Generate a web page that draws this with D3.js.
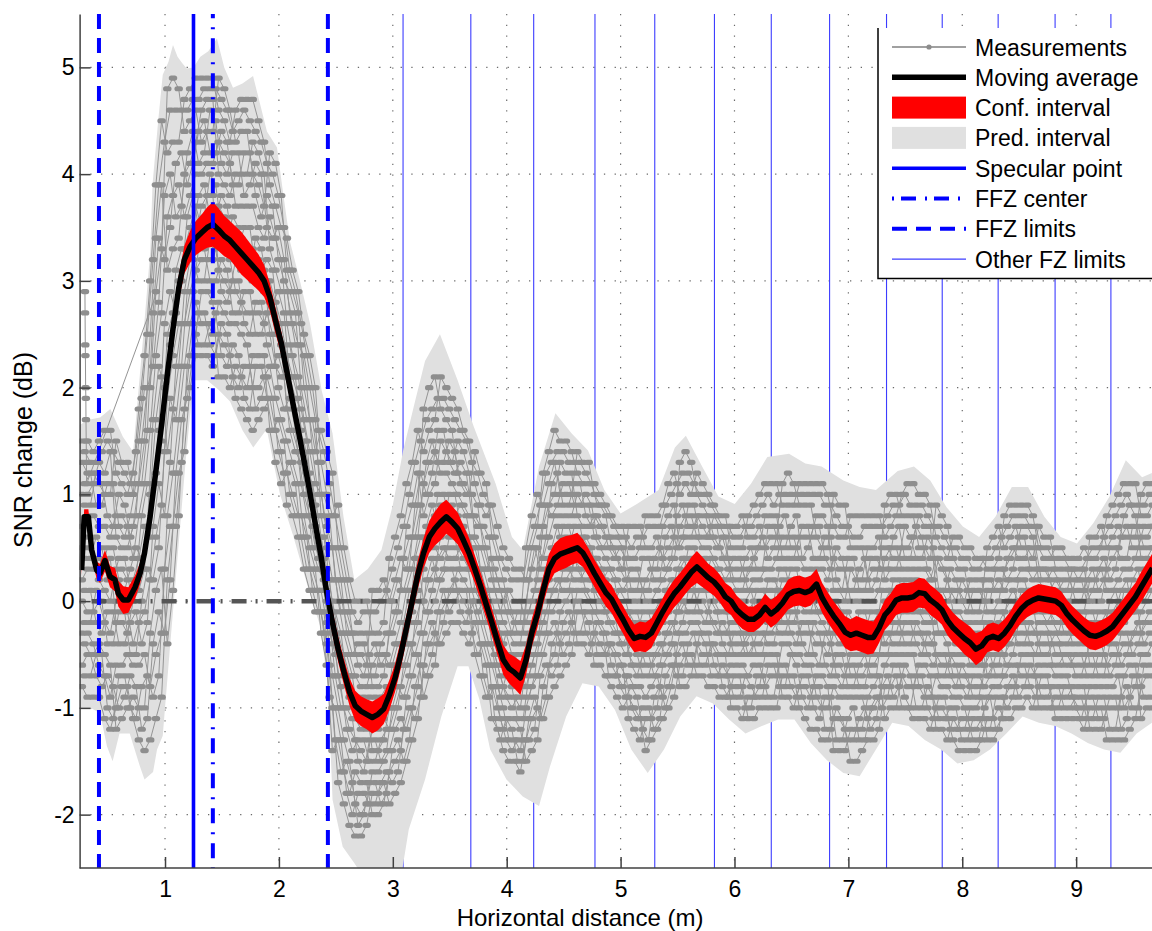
<!DOCTYPE html>
<html>
<head>
<meta charset="utf-8">
<script src="https://cdn.jsdelivr.net/npm/d3@7"></script>
<style>
  body { margin: 0; background: #fff; }
  svg { display: block; }
  text { font-family: "Liberation Sans", Arial, Helvetica, sans-serif; }
</style>
</head>
<body>
<svg id="chart" width="1152" height="931"></svg>
<script>
// ---------------- DATA ----------------
const xTicks = [1, 2, 3, 4, 5, 6, 7, 8, 9];
const yTicks = [-2, -1, 0, 1, 2, 3, 4, 5];

// moving average (dB) versus horizontal distance (m)
const avgX = [0.268,0.29,0.327,0.356,0.40,0.429,0.473,0.517,0.561,0.59,0.634,0.678,0.737,0.781,0.82,
  0.87,0.92,0.97,1.02,1.07,1.12,1.17,1.22,1.27,1.32,
  1.37,1.42,1.47,1.52,1.57,1.62,1.67,1.72,1.77,1.82,
  1.87,1.92,1.97,2.02,2.07,2.12,2.17,2.22,2.27,2.32,
  2.37,2.42,2.47,2.52,2.57,2.62,2.67,2.72,2.77,2.82,
  2.87,2.92,2.97,3.02,3.07,3.12,3.17,3.22,3.27,3.32,
  3.37,3.42,3.47,3.52,3.57,3.62,3.67,3.72,3.77,3.82,
  3.87,3.92,3.97,4.02,4.07,4.12,4.17,4.22,4.27,4.32,
  4.37,4.42,4.47,4.52,4.57,4.62,4.67,4.72,4.77,4.82,
  4.87,4.92,4.97,5.02,5.07,5.12,5.17,5.22,5.27,5.32,
  5.37,5.42,5.47,5.52,5.57,5.62,5.67,5.72,5.77,5.82,
  5.87,5.92,5.97,6.02,6.07,6.12,6.17,6.22,6.27,6.32,
  6.37,6.42,6.47,6.52,6.57,6.62,6.67,6.72,6.77,6.82,
  6.87,6.92,6.97,7.02,7.07,7.12,7.17,7.22,7.27,7.32,
  7.37,7.42,7.47,7.52,7.57,7.62,7.67,7.72,7.77,7.82,
  7.87,7.92,7.97,8.02,8.07,8.12,8.17,8.22,8.27,8.32,
  8.37,8.42,8.47,8.52,8.57,8.62,8.67,8.72,8.77,8.82,
  8.87,8.92,8.97,9.02,9.07,9.12,9.17,9.22,9.27,9.32,
  9.37,9.42,9.47,9.52,9.57,9.62,9.67];
const avgY = [0.29,0.79,0.79,0.48,0.29,0.26,0.38,0.23,0.2,0.07,0.01,0.01,0.13,0.26,0.45,
  0.8,1.22,1.65,2.12,2.55,2.93,3.2,3.32,3.4,3.45,
  3.5,3.53,3.48,3.42,3.38,3.32,3.26,3.2,3.14,3.08,
  3.0,2.85,2.63,2.42,2.15,1.87,1.6,1.32,1.03,0.72,
  0.42,0.08,-0.2,-0.45,-0.66,-0.85,-0.98,-1.03,-1.06,-1.09,
  -1.06,-1.01,-0.88,-0.72,-0.5,-0.25,0.0,0.25,0.45,0.6,
  0.68,0.74,0.79,0.74,0.68,0.57,0.45,0.3,0.14,-0.03,
  -0.2,-0.38,-0.55,-0.63,-0.67,-0.72,-0.55,-0.3,-0.12,0.1,
  0.3,0.4,0.44,0.46,0.48,0.5,0.45,0.36,0.26,0.17,
  0.08,0.02,-0.08,-0.17,-0.27,-0.35,-0.33,-0.34,-0.3,-0.2,
  -0.1,-0.01,0.07,0.13,0.2,0.27,0.32,0.27,0.22,0.18,
  0.12,0.04,0.0,-0.08,-0.13,-0.17,-0.17,-0.13,-0.06,-0.12,
  -0.08,-0.02,0.06,0.09,0.1,0.08,0.1,0.16,0.03,-0.06,
  -0.14,-0.21,-0.29,-0.32,-0.3,-0.32,-0.34,-0.34,-0.25,-0.13,
  -0.07,0.01,0.03,0.03,0.04,0.08,0.07,0.01,-0.03,-0.08,
  -0.18,-0.25,-0.3,-0.35,-0.39,-0.45,-0.42,-0.35,-0.33,-0.35,
  -0.3,-0.23,-0.14,-0.07,-0.02,0.01,0.03,0.02,0.01,0.0,
  -0.04,-0.12,-0.18,-0.23,-0.28,-0.32,-0.33,-0.31,-0.28,-0.24,
  -0.17,-0.1,-0.03,0.04,0.13,0.22,0.31];
// half-width of the confidence interval at each avgX
const ciHalf = [0.05,0.07,0.07,0.08,0.08,0.09,0.1,0.1,0.11,0.12,0.13,0.12,0.11,0.1,0.1,
  0.1,0.1,0.1,0.1,0.11,0.12,0.13,0.15,0.16,0.17,
  0.19,0.21,0.2,0.19,0.18,0.19,0.2,0.19,0.18,0.17,
  0.15,0.13,0.12,0.11,0.11,0.1,0.1,0.1,0.1,0.1,
  0.1,0.1,0.11,0.12,0.12,0.13,0.14,0.14,0.14,0.15,
  0.15,0.14,0.14,0.13,0.13,0.12,0.12,0.13,0.14,0.15,
  0.16,0.17,0.16,0.15,0.15,0.14,0.14,0.13,0.13,0.13,
  0.13,0.13,0.14,0.14,0.15,0.16,0.14,0.13,0.13,0.13,
  0.14,0.14,0.15,0.15,0.14,0.14,0.13,0.13,0.13,0.13,
  0.13,0.13,0.13,0.13,0.13,0.13,0.14,0.14,0.14,0.13,
  0.13,0.13,0.13,0.13,0.13,0.14,0.15,0.14,0.13,0.13,
  0.13,0.13,0.13,0.13,0.13,0.12,0.12,0.12,0.13,0.13,
  0.13,0.13,0.14,0.14,0.14,0.14,0.14,0.14,0.14,0.14,
  0.14,0.14,0.15,0.15,0.16,0.16,0.16,0.15,0.14,0.14,
  0.14,0.14,0.14,0.14,0.14,0.14,0.14,0.14,0.14,0.14,
  0.14,0.14,0.14,0.15,0.15,0.15,0.14,0.13,0.13,0.13,
  0.13,0.13,0.13,0.13,0.13,0.13,0.13,0.13,0.13,0.13,
  0.13,0.13,0.13,0.13,0.13,0.13,0.13,0.13,0.13,0.13,
  0.13,0.13,0.13,0.13,0.14,0.14,0.14];

// prediction interval bounds
const predUpX = [0.25,0.33,0.43,0.52,0.63,0.72,0.81,0.87,0.89,0.94,0.98,1.03,1.07,1.11,1.15,1.19,1.25,1.31,1.38,1.456,
  1.52,1.597,1.68,1.773,1.895,1.983,2.04,2.097,2.185,2.273,2.376,2.471,2.567,2.662,2.78,2.9,3.0,3.091,3.19,3.283,
  3.414,3.569,3.712,3.903,4.046,4.141,4.284,4.428,4.571,4.714,4.857,5.0,5.143,5.334,5.477,5.573,5.716,5.859,6.002,6.145,
  6.288,6.479,6.622,6.765,6.956,7.099,7.242,7.433,7.576,7.719,7.862,8.005,8.148,8.291,8.435,8.578,8.721,8.864,9.007,9.15,
  9.293,9.436,9.579,9.665];
const predUpY = [1.65,1.7,1.72,1.8,1.54,1.4,2.5,3.27,3.9,4.5,4.93,5.05,5.21,5.1,5.04,4.99,5.0,5.1,5.15,5.27,
  5.0,4.81,4.85,4.92,4.4,4.25,3.8,3.37,3.0,2.6,1.97,1.57,0.79,0.2,0.3,0.48,0.9,1.41,1.85,2.25,
  2.5,2.07,1.63,1.1,0.6,0.48,1.26,1.76,1.57,1.41,1.04,0.82,0.91,1.04,1.44,1.55,1.26,0.98,0.91,1.1,
  1.35,1.38,1.29,1.26,1.13,1.07,1.04,1.22,1.26,1.13,0.88,0.7,0.6,0.79,1.07,1.07,0.79,0.6,0.54,0.73,
  0.98,1.32,1.16,1.2];
const predLoX = [0.25,0.35,0.43,0.49,0.54,0.6,0.69,0.78,0.82,0.895,0.93,0.98,1.04,1.11,1.18,1.25,1.37,1.47,1.571,1.68,
  1.775,1.893,2.01,2.126,2.244,2.361,2.42,2.45,2.471,2.56,2.66,2.75,2.88,3.0,3.07,3.14,3.283,3.426,3.569,3.664,
  3.76,3.855,3.998,4.141,4.284,4.38,4.522,4.665,4.808,4.951,5.094,5.238,5.381,5.524,5.667,5.811,5.953,6.097,6.24,6.383,
  6.526,6.67,6.812,6.956,7.099,7.242,7.385,7.528,7.671,7.814,7.958,8.1,8.244,8.387,8.53,8.673,8.816,8.959,9.102,9.245,
  9.388,9.531,9.665];
const predLoY = [-1.0,-1.0,-1.05,-1.36,-1.5,-1.24,-1.24,-1.55,-1.67,-1.6,-1.39,-1.26,-0.48,0.41,1.3,2.07,2.07,1.98,1.87,1.6,
  1.44,1.61,1.0,0.61,0.17,-0.23,-0.7,-1.3,-1.86,-2.3,-2.45,-2.6,-2.7,-2.7,-2.6,-2.14,-1.67,-1.08,-0.61,-0.61,
  -0.92,-1.39,-1.67,-1.83,-1.92,-1.55,-1.08,-0.77,-0.8,-1.02,-1.39,-1.61,-1.39,-1.08,-0.89,-0.96,-1.11,-1.24,-1.17,-1.11,
  -1.11,-1.33,-1.49,-1.61,-1.64,-1.39,-1.14,-1.17,-1.3,-1.39,-1.52,-1.49,-1.39,-1.24,-1.08,-1.14,-1.17,-1.24,-1.33,-1.39,
  -1.42,-1.24,-1.14];

// measurement sample positions (m) and the quantised SNR changes (dB) of the passes at each position
const measX = [0.27,0.32,0.37,0.42,0.47,0.52,0.57,0.62,0.67,0.72,
  0.77,0.82,0.87,0.92,0.97,1.02,1.07,1.12,1.17,1.22,
  1.27,1.32,1.37,1.42,1.47,1.52,1.57,1.62,1.67,1.72,
  1.77,1.82,1.87,1.92,1.97,2.02,2.07,2.12,2.17,2.22,
  2.27,2.32,2.37,2.42,2.47,2.52,2.57,2.62,2.67,2.72,
  2.77,2.82,2.87,2.92,2.97,3.02,3.07,3.12,3.17,3.22,
  3.27,3.32,3.37,3.42,3.47,3.52,3.57,3.62,3.67,3.72,
  3.77,3.82,3.87,3.92,3.97,4.02,4.07,4.12,4.17,4.22,
  4.27,4.32,4.37,4.42,4.47,4.52,4.57,4.62,4.67,4.72,
  4.77,4.82,4.87,4.92,4.97,5.02,5.07,5.12,5.17,5.22,
  5.27,5.32,5.37,5.42,5.47,5.52,5.57,5.62,5.67,5.72,
  5.77,5.82,5.87,5.92,5.97,6.02,6.07,6.12,6.17,6.22,
  6.27,6.32,6.37,6.42,6.47,6.52,6.57,6.62,6.67,6.72,
  6.77,6.82,6.87,6.92,6.97,7.02,7.07,7.12,7.17,7.22,
  7.27,7.32,7.37,7.42,7.47,7.52,7.57,7.62,7.67,7.72,
  7.77,7.82,7.87,7.92,7.97,8.02,8.07,8.12,8.17,8.22,
  8.27,8.32,8.37,8.42,8.47,8.52,8.57,8.62,8.67,8.72,
  8.77,8.82,8.87,8.92,8.97,9.02,9.07,9.12,9.17,9.22,
  9.27,9.32,9.37,9.42,9.47,9.52,9.57,9.62,9.67];
const measCols = [
[-0.8,-0.6,-0.3,0.0,0.2,0.5,0.7,1.0,1.3,1.5],
[-0.9,-0.5,-0.3,-0.1,0.3,0.5,0.8,1.0,1.2,1.5],
[-0.9,-0.5,-0.4,-0.1,0.3,0.4,0.8,1.1,1.2,1.4],
[-0.9,-0.4,-0.6,0.0,0.4,0.2,0.7,1.3,1.1,1.5],
[-1.1,-0.5,-0.7,-0.2,0.3,0.1,0.7,1.2,1.0,1.6],
[-1.2,-0.6,-0.9,-0.3,0.4,0.0,0.6,1.4,1.0,1.6],
[-1.0,-1.2,-0.6,0.0,-0.2,0.3,0.8,0.6,1.5,1.2],
[-0.8,-1.1,-0.6,0.1,-0.2,0.3,0.8,0.5,1.3,1.1],
[-0.8,-1.0,-0.5,-0.1,-0.3,0.2,0.7,0.5,1.3,1.0],
[-1.1,-0.9,-0.6,-0.4,0.0,0.2,0.4,0.7,1.0,1.2],
[-1.3,-1.0,-0.6,-0.2,0.1,0.4,0.8,1.1,1.5,1.8],
[-1.4,-1.0,-0.5,-0.1,0.3,0.7,1.1,1.5,2.0,2.3],
[-1.3,-0.3,-0.8,0.2,1.0,0.6,1.6,2.5,2.0,3.0],
[-1.1,0.1,-0.5,0.6,1.7,1.2,2.3,3.4,2.9,3.9],
[-0.9,0.3,-0.3,0.9,2.1,1.5,2.7,3.9,3.3,4.5],
[0.2,-0.4,0.8,1.9,1.4,2.5,3.6,3.1,4.8,4.2],
[0.7,0.1,1.2,2.3,1.8,2.7,3.8,3.3,4.9,4.3],
[1.2,0.8,1.7,2.6,2.2,3.0,3.9,3.4,4.8,4.3],
[1.4,1.8,2.2,2.6,2.9,3.3,3.6,4.0,4.4,4.7],
[2.0,2.3,2.6,2.9,3.2,3.5,3.8,4.1,4.5,4.8],
[2.3,2.5,2.8,3.1,3.4,3.7,4.0,4.3,4.6,4.9],
[2.3,2.9,2.6,3.2,3.7,3.5,4.0,4.6,4.3,4.9],
[2.3,2.9,2.6,3.2,3.8,3.5,4.1,4.7,4.4,4.9],
[2.2,2.8,2.5,3.2,3.8,3.5,4.1,4.7,4.4,4.9],
[2.5,2.1,2.8,3.4,3.1,3.7,4.3,4.0,4.9,4.6],
[2.4,2.1,2.7,3.3,3.0,3.6,4.2,3.9,4.8,4.5],
[2.3,2.0,2.6,3.2,2.9,3.5,4.1,3.8,4.6,4.3],
[1.9,2.2,2.6,2.9,3.2,3.4,3.7,4.0,4.3,4.6],
[1.8,2.1,2.5,2.8,3.1,3.4,3.7,4.0,4.4,4.7],
[1.7,2.0,2.4,2.7,3.1,3.3,3.7,4.0,4.4,4.7],
[1.6,2.3,2.0,2.7,3.3,3.0,3.7,4.3,4.0,4.7],
[1.7,2.3,2.0,2.7,3.2,3.0,3.5,4.2,3.9,4.5],
[1.8,2.3,2.1,2.6,3.1,2.9,3.4,4.0,3.7,4.3],
[1.9,1.6,2.2,2.8,2.5,3.0,3.6,3.3,4.2,3.9],
[1.6,1.3,1.9,2.5,2.2,2.8,3.4,3.1,4.1,3.7],
[1.4,1.1,1.7,2.4,2.1,2.6,3.2,2.9,3.8,3.5],
[0.9,1.2,1.5,1.8,2.1,2.3,2.6,2.9,3.1,3.4],
[0.8,1.0,1.3,1.6,1.8,2.1,2.3,2.6,2.9,3.1],
[0.6,0.8,1.1,1.4,1.6,1.9,2.1,2.4,2.7,2.9],
[0.3,0.8,0.6,1.0,1.5,1.3,1.7,2.3,2.0,2.5],
[0.1,0.5,0.3,0.8,1.2,1.0,1.4,2.0,1.7,2.3],
[-0.1,0.3,0.1,0.5,0.9,0.7,1.1,1.7,1.4,2.0],
[-0.1,-0.3,0.1,0.4,0.3,0.6,1.0,0.8,1.6,1.3],
[-0.4,-0.6,-0.2,0.1,0.0,0.3,0.7,0.5,1.4,1.0],
[-1.0,-1.4,-0.7,-0.2,-0.4,0.0,0.5,0.2,1.2,0.8],
[-1.7,-1.3,-1.0,-0.7,-0.5,-0.3,0.0,0.2,0.5,0.9],
[-1.9,-1.6,-1.3,-1.0,-0.7,-0.5,-0.3,-0.1,0.2,0.5],
[-2.1,-1.8,-1.5,-1.2,-0.9,-0.7,-0.5,-0.3,-0.1,0.2],
[-2.2,-1.6,-1.9,-1.3,-0.9,-1.1,-0.7,-0.3,-0.5,0.0],
[-2.2,-1.7,-2.0,-1.4,-1.0,-1.2,-0.8,-0.3,-0.5,0.0],
[-2.1,-1.7,-1.9,-1.5,-1.0,-1.2,-0.8,-0.3,-0.6,0.0],
[-1.8,-2.0,-1.6,-1.2,-1.4,-1.0,-0.6,-0.8,0.1,-0.3],
[-1.8,-2.0,-1.6,-1.2,-1.4,-1.0,-0.5,-0.8,0.1,-0.3],
[-1.7,-1.9,-1.5,-1.1,-1.3,-0.9,-0.5,-0.7,0.2,-0.2],
[-1.9,-1.6,-1.4,-1.2,-1.0,-0.8,-0.6,-0.3,0.0,0.4],
[-1.8,-1.5,-1.2,-1.0,-0.8,-0.6,-0.4,-0.1,0.2,0.6],
[-1.7,-1.4,-1.1,-0.8,-0.6,-0.4,-0.2,0.1,0.4,0.8],
[-1.5,-0.9,-1.2,-0.6,-0.2,-0.4,0.1,0.7,0.3,1.1],
[-1.3,-0.7,-1.0,-0.4,0.1,-0.1,0.3,0.9,0.6,1.3],
[-1.1,-0.5,-0.8,-0.2,0.4,0.1,0.6,1.2,0.9,1.6],
[-0.6,-0.9,-0.3,0.3,0.0,0.6,1.1,0.8,1.8,1.4],
[-0.4,-0.7,-0.1,0.5,0.2,0.7,1.3,1.0,2.0,1.6],
[-0.3,-0.6,0.0,0.5,0.3,0.8,1.4,1.1,2.1,1.7],
[-0.4,-0.1,0.2,0.4,0.6,0.9,1.2,1.5,1.8,2.1],
[-0.3,0.0,0.3,0.5,0.7,0.9,1.2,1.4,1.7,2.0],
[-0.2,0.1,0.3,0.5,0.7,0.9,1.1,1.3,1.6,1.9],
[-0.2,0.3,0.1,0.5,0.8,0.6,1.0,1.5,1.2,1.8],
[-0.3,0.2,0.0,0.4,0.7,0.5,0.9,1.4,1.1,1.6],
[-0.4,0.1,-0.1,0.3,0.6,0.4,0.8,1.2,1.0,1.5],
[-0.2,-0.5,0.0,0.3,0.1,0.5,0.8,0.6,1.4,1.1],
[-0.4,-0.7,-0.2,0.1,0.0,0.3,0.7,0.5,1.2,0.9],
[-0.6,-0.9,-0.4,0.0,-0.2,0.1,0.5,0.3,1.1,0.8],
[-1.1,-0.8,-0.6,-0.4,-0.2,0.0,0.2,0.4,0.6,0.9],
[-1.2,-1.0,-0.8,-0.6,-0.4,-0.2,0.0,0.2,0.4,0.7],
[-1.4,-1.2,-1.0,-0.8,-0.6,-0.4,-0.2,0.0,0.2,0.5],
[-1.5,-1.1,-1.3,-0.9,-0.5,-0.7,-0.3,0.1,-0.1,0.4],
[-1.5,-1.1,-1.3,-0.9,-0.6,-0.7,-0.4,0.0,-0.2,0.3],
[-1.6,-1.2,-1.4,-1.0,-0.6,-0.8,-0.4,0.0,-0.2,0.3],
[-1.3,-1.5,-1.0,-0.6,-0.8,-0.4,0.0,-0.2,0.5,0.2],
[-1.1,-1.4,-0.8,-0.4,-0.6,-0.2,0.3,0.0,0.8,0.5],
[-1.0,-1.3,-0.7,-0.2,-0.4,0.0,0.5,0.2,1.0,0.7],
[-1.1,-0.8,-0.5,-0.2,0.0,0.2,0.4,0.7,0.9,1.2],
[-0.9,-0.6,-0.3,0.0,0.2,0.4,0.6,0.9,1.1,1.4],
[-0.8,-0.5,-0.2,0.1,0.3,0.5,0.8,1.0,1.3,1.6],
[-0.7,-0.1,-0.4,0.2,0.6,0.4,0.8,1.3,1.0,1.5],
[-0.6,0.0,-0.3,0.2,0.6,0.4,0.8,1.2,1.0,1.5],
[-0.5,0.1,-0.2,0.3,0.6,0.4,0.8,1.2,1.0,1.4],
[-0.1,-0.4,0.1,0.5,0.3,0.6,1.0,0.8,1.4,1.2],
[-0.1,-0.4,0.1,0.4,0.2,0.6,0.9,0.7,1.3,1.1],
[-0.2,-0.5,0.0,0.3,0.2,0.5,0.9,0.7,1.3,1.1],
[-0.6,-0.3,-0.1,0.1,0.2,0.4,0.6,0.8,1.0,1.1],
[-0.6,-0.4,-0.2,0.0,0.1,0.3,0.5,0.7,0.9,1.0],
[-0.7,-0.5,-0.3,-0.1,0.1,0.2,0.4,0.6,0.8,0.9],
[-0.8,-0.4,-0.6,-0.2,0.1,0.0,0.3,0.6,0.5,0.8],
[-0.9,-0.5,-0.7,-0.3,0.0,-0.1,0.2,0.6,0.4,0.7],
[-1.0,-0.6,-0.8,-0.4,-0.1,-0.2,0.1,0.5,0.3,0.7],
[-0.9,-1.1,-0.7,-0.3,-0.5,-0.1,0.2,0.0,0.7,0.4],
[-1.0,-1.2,-0.8,-0.4,-0.6,-0.2,0.2,0.0,0.7,0.4],
[-1.1,-1.3,-0.8,-0.4,-0.6,-0.2,0.2,0.0,0.7,0.5],
[-1.4,-1.1,-0.9,-0.6,-0.4,-0.2,0.0,0.2,0.5,0.8],
[-1.3,-1.1,-0.8,-0.6,-0.4,-0.2,0.0,0.3,0.5,0.8],
[-1.2,-1.0,-0.7,-0.5,-0.3,-0.1,0.1,0.3,0.6,0.8],
[-1.1,-0.6,-0.9,-0.4,0.0,-0.2,0.2,0.7,0.4,0.9],
[-1.0,-0.5,-0.8,-0.3,0.1,-0.1,0.3,0.8,0.5,1.1],
[-0.9,-0.4,-0.6,-0.2,0.2,0.0,0.4,0.9,0.6,1.2],
[-0.6,-0.8,-0.3,0.1,-0.1,0.3,0.7,0.5,1.3,1.0],
[-0.5,-0.8,-0.3,0.2,0.0,0.4,0.8,0.6,1.4,1.1],
[-0.5,-0.7,-0.2,0.2,0.0,0.4,0.8,0.6,1.3,1.0],
[-0.7,-0.4,-0.2,0.0,0.2,0.4,0.6,0.8,1.0,1.2],
[-0.7,-0.5,-0.3,0.0,0.2,0.3,0.5,0.7,0.9,1.1],
[-0.8,-0.5,-0.3,-0.1,0.1,0.3,0.5,0.6,0.8,1.0],
[-0.8,-0.4,-0.6,-0.2,0.2,0.0,0.4,0.8,0.6,0.9],
[-0.9,-0.5,-0.7,-0.3,0.1,-0.1,0.3,0.7,0.5,0.8],
[-0.9,-0.5,-0.7,-0.3,0.0,-0.1,0.2,0.6,0.4,0.8],
[-0.8,-1.0,-0.6,-0.2,-0.4,0.0,0.3,0.2,0.7,0.5],
[-0.8,-1.0,-0.6,-0.2,-0.4,-0.1,0.3,0.1,0.7,0.5],
[-0.8,-1.1,-0.6,-0.3,-0.4,-0.1,0.3,0.1,0.8,0.5],
[-1.1,-0.9,-0.7,-0.5,-0.3,-0.1,0.1,0.3,0.6,0.8],
[-1.1,-0.9,-0.6,-0.4,-0.2,0.0,0.2,0.4,0.6,0.9],
[-1.0,-0.8,-0.6,-0.4,-0.2,0.0,0.2,0.5,0.7,1.0],
[-1.0,-0.5,-0.8,-0.3,0.1,-0.1,0.3,0.8,0.5,1.1],
[-1.0,-0.5,-0.7,-0.3,0.1,-0.1,0.3,0.8,0.6,1.1],
[-1.0,-0.5,-0.7,-0.2,0.1,0.0,0.4,0.8,0.6,1.1],
[-0.7,-0.9,-0.4,0.0,-0.2,0.2,0.6,0.4,1.1,0.9],
[-0.7,-0.9,-0.4,0.0,-0.2,0.2,0.6,0.4,1.2,0.9],
[-0.7,-1.0,-0.5,0.0,-0.2,0.2,0.6,0.4,1.1,0.9],
[-1.0,-0.8,-0.5,-0.3,0.0,0.2,0.4,0.6,0.9,1.1],
[-1.1,-0.8,-0.6,-0.3,-0.1,0.1,0.3,0.6,0.9,1.1],
[-1.2,-0.9,-0.6,-0.3,-0.1,0.1,0.3,0.6,0.9,1.1],
[-1.2,-0.7,-0.9,-0.4,0.1,-0.1,0.3,0.8,0.6,1.1],
[-1.3,-0.7,-1.0,-0.4,0.0,-0.2,0.3,0.8,0.5,1.1],
[-1.3,-0.8,-1.0,-0.5,-0.1,-0.3,0.2,0.7,0.5,1.0],
[-1.1,-1.4,-0.8,-0.3,-0.6,-0.1,0.4,0.1,1.0,0.7],
[-1.1,-1.4,-0.9,-0.4,-0.6,-0.2,0.3,0.1,0.9,0.6],
[-1.2,-1.4,-0.9,-0.4,-0.7,-0.2,0.3,0.0,0.9,0.6],
[-1.5,-1.2,-0.9,-0.7,-0.5,-0.3,0.0,0.3,0.5,0.8],
[-1.5,-1.2,-0.9,-0.7,-0.5,-0.3,0.0,0.2,0.5,0.8],
[-1.4,-1.2,-0.9,-0.7,-0.5,-0.3,0.0,0.2,0.5,0.8],
[-1.3,-0.9,-1.1,-0.6,-0.3,-0.4,0.0,0.5,0.2,0.8],
[-1.3,-0.8,-1.0,-0.6,-0.2,-0.4,0.0,0.5,0.3,0.8],
[-1.2,-0.7,-0.9,-0.5,-0.1,-0.3,0.1,0.6,0.3,0.8],
[-0.8,-1.1,-0.6,-0.2,-0.4,0.0,0.4,0.2,0.9,0.6],
[-0.8,-1.0,-0.5,-0.1,-0.3,0.1,0.5,0.3,1.0,0.7],
[-0.7,-1.0,-0.5,-0.1,-0.3,0.1,0.5,0.3,1.0,0.8],
[-1.0,-0.7,-0.5,-0.3,-0.1,0.1,0.3,0.5,0.8,1.0],
[-1.0,-0.8,-0.5,-0.3,-0.1,0.1,0.3,0.5,0.8,1.1],
[-1.1,-0.8,-0.5,-0.3,-0.1,0.1,0.3,0.6,0.8,1.1],
[-1.1,-0.6,-0.8,-0.3,0.1,-0.1,0.3,0.8,0.5,1.0],
[-1.1,-0.6,-0.9,-0.4,0.0,-0.2,0.3,0.7,0.5,1.0],
[-1.2,-0.7,-0.9,-0.4,0.0,-0.2,0.2,0.7,0.4,0.9],
[-1.0,-1.2,-0.7,-0.3,-0.5,-0.1,0.4,0.1,0.9,0.6],
[-1.0,-1.2,-0.8,-0.3,-0.6,-0.1,0.3,0.1,0.8,0.5],
[-1.1,-1.3,-0.8,-0.4,-0.6,-0.2,0.2,0.0,0.7,0.4],
[-1.3,-1.1,-0.9,-0.7,-0.5,-0.3,-0.1,0.1,0.4,0.6],
[-1.4,-1.2,-0.9,-0.7,-0.5,-0.3,-0.1,0.1,0.3,0.6],
[-1.4,-1.2,-1.0,-0.7,-0.5,-0.4,-0.2,0.0,0.3,0.5],
[-1.4,-1.0,-1.2,-0.8,-0.4,-0.6,-0.2,0.2,0.0,0.5],
[-1.4,-1.0,-1.2,-0.8,-0.4,-0.6,-0.2,0.2,0.0,0.4],
[-1.3,-0.9,-1.1,-0.8,-0.4,-0.6,-0.2,0.2,0.0,0.4],
[-1.1,-1.3,-0.9,-0.5,-0.7,-0.3,0.1,-0.1,0.5,0.3],
[-1.1,-1.3,-0.8,-0.4,-0.6,-0.3,0.1,-0.1,0.6,0.3],
[-1.0,-1.2,-0.8,-0.4,-0.6,-0.2,0.2,0.0,0.7,0.4],
[-1.1,-0.9,-0.7,-0.5,-0.3,-0.1,0.1,0.3,0.5,0.8],
[-1.1,-0.8,-0.6,-0.4,-0.2,0.0,0.2,0.4,0.6,0.9],
[-1.0,-0.8,-0.6,-0.3,-0.1,0.0,0.2,0.5,0.7,0.9],
[-1.0,-0.5,-0.7,-0.3,0.1,-0.1,0.3,0.7,0.5,0.9],
[-0.9,-0.5,-0.7,-0.3,0.1,-0.1,0.3,0.7,0.5,0.9],
[-1.0,-0.5,-0.7,-0.3,0.0,-0.1,0.2,0.6,0.4,0.8],
[-0.8,-1.0,-0.6,-0.2,-0.4,0.0,0.3,0.2,0.7,0.5],
[-0.8,-1.0,-0.6,-0.2,-0.4,-0.1,0.3,0.1,0.6,0.4],
[-0.8,-1.0,-0.6,-0.3,-0.4,-0.1,0.2,0.1,0.6,0.4],
[-1.1,-0.9,-0.7,-0.5,-0.3,-0.2,0.0,0.2,0.3,0.5],
[-1.1,-0.9,-0.7,-0.5,-0.4,-0.2,0.0,0.1,0.3,0.5],
[-1.1,-0.9,-0.7,-0.5,-0.4,-0.2,-0.1,0.1,0.3,0.4],
[-1.1,-0.8,-0.9,-0.6,-0.3,-0.4,-0.1,0.3,0.1,0.4],
[-1.1,-0.8,-1.0,-0.6,-0.3,-0.4,-0.1,0.2,0.1,0.4],
[-1.2,-0.8,-1.0,-0.6,-0.2,-0.4,-0.1,0.3,0.1,0.5],
[-1.0,-1.2,-0.8,-0.4,-0.6,-0.2,0.2,0.0,0.6,0.4],
[-1.0,-1.2,-0.8,-0.4,-0.6,-0.2,0.2,0.0,0.6,0.4],
[-1.0,-1.2,-0.8,-0.4,-0.6,-0.2,0.3,0.0,0.7,0.5],
[-1.3,-1.0,-0.8,-0.6,-0.3,-0.1,0.1,0.3,0.5,0.8],
[-1.3,-1.0,-0.8,-0.5,-0.3,-0.1,0.1,0.4,0.6,0.9],
[-1.3,-1.0,-0.7,-0.5,-0.2,0.0,0.2,0.5,0.7,1.0],
[-1.3,-0.7,-1.0,-0.4,0.1,-0.2,0.3,0.8,0.6,1.1],
[-1.2,-0.6,-0.9,-0.4,0.1,-0.1,0.3,0.9,0.6,1.1],
[-1.1,-0.6,-0.8,-0.3,0.1,-0.1,0.4,0.8,0.6,1.1],
[-0.8,-1.1,-0.5,-0.1,-0.3,0.2,0.6,0.4,1.0,0.8],
[-0.7,-1.0,-0.5,0.0,-0.2,0.2,0.6,0.4,1.1,0.8],
[-0.7,-1.0,-0.4,0.1,-0.2,0.3,0.7,0.5,1.1,0.9]
];
// second group of passes, sampled between the positions above
const measX2 = [0.295,0.345,0.395,0.445,0.495,0.545,0.595,0.645,0.695,0.745,
  0.795,0.845,0.895,0.945,0.995,1.045,1.095,1.145,1.195,1.245,
  1.295,1.345,1.395,1.445,1.495,1.545,1.595,1.645,1.695,1.745,
  1.795,1.845,1.895,1.945,1.995,2.045,2.095,2.145,2.195,2.245,
  2.295,2.345,2.395,2.445,2.495,2.545,2.595,2.645,2.695,2.745,
  2.795,2.845,2.895,2.945,2.995,3.045,3.095,3.145,3.195,3.245,
  3.295,3.345,3.395,3.445,3.495,3.545,3.595,3.645,3.695,3.745,
  3.795,3.845,3.895,3.945,3.995,4.045,4.095,4.145,4.195,4.245,
  4.295,4.345,4.395,4.445,4.495,4.545,4.595,4.645,4.695,4.745,
  4.795,4.845,4.895,4.945,4.995,5.045,5.095,5.145,5.195,5.245,
  5.295,5.345,5.395,5.445,5.495,5.545,5.595,5.645,5.695,5.745,
  5.795,5.845,5.895,5.945,5.995,6.045,6.095,6.145,6.195,6.245,
  6.295,6.345,6.395,6.445,6.495,6.545,6.595,6.645,6.695,6.745,
  6.795,6.845,6.895,6.945,6.995,7.045,7.095,7.145,7.195,7.245,
  7.295,7.345,7.395,7.445,7.495,7.545,7.595,7.645,7.695,7.745,
  7.795,7.845,7.895,7.945,7.995,8.045,8.095,8.145,8.195,8.245,
  8.295,8.345,8.395,8.445,8.495,8.545,8.595,8.645,8.695,8.745,
  8.795,8.845,8.895,8.945,8.995,9.045,9.095,9.145,9.195,9.245,
  9.295,9.345,9.395,9.445,9.495,9.545,9.595,9.645];
const measCols2 = [
[-0.7,-0.4,-0.2,0.1,0.4,0.6,0.9,1.1,1.4],
[-0.7,-0.5,-0.2,0.1,0.4,0.6,0.9,1.2,1.3],
[-0.5,-0.7,0.1,-0.2,0.6,0.3,1.2,0.9,1.3],
[-0.5,-0.8,0.0,-0.3,0.5,0.3,1.1,0.9,1.4],
[-1.0,-0.7,-0.4,-0.1,0.2,0.5,0.8,1.1,1.5],
[-1.1,-0.8,-0.4,-0.1,0.2,0.5,0.7,1.1,1.4],
[-0.7,-1.0,-0.1,-0.4,0.4,0.2,1.0,0.7,1.3],
[-0.7,-0.9,-0.1,-0.4,0.4,0.1,0.9,0.6,1.2],
[-1.0,-0.7,-0.5,-0.2,0.1,0.3,0.6,0.8,1.1],
[-1.1,-0.8,-0.5,-0.1,0.2,0.5,0.8,1.1,1.4],
[-0.8,-1.2,0.0,-0.4,0.8,0.4,1.5,1.1,1.9],
[-0.7,-1.1,0.3,-0.2,1.1,0.7,2.0,1.6,2.5],
[-0.9,-0.4,0.2,0.7,1.1,1.7,2.2,2.7,3.2],
[-0.7,-0.1,0.5,1.1,1.6,2.2,2.8,3.4,3.9],
[0.3,-0.3,1.4,0.8,2.6,2.0,3.8,3.2,4.3],
[0.7,0.2,1.9,1.3,2.9,2.4,4.0,3.5,4.6],
[0.7,1.2,1.7,2.2,2.7,3.1,3.6,4.1,4.6],
[1.3,1.7,2.2,2.6,3.0,3.3,3.7,4.2,4.6],
[2.2,1.9,2.9,2.6,3.6,3.2,4.2,3.9,4.6],
[2.6,2.3,3.2,2.9,3.8,3.5,4.4,4.1,4.7],
[2.4,2.7,3.0,3.3,3.5,3.8,4.1,4.4,4.7],
[2.4,2.7,3.0,3.3,3.6,3.9,4.2,4.5,4.8],
[2.6,2.4,3.4,3.0,4.0,3.6,4.6,4.2,4.8],
[2.7,2.3,3.3,3.0,3.9,3.6,4.5,4.2,4.8],
[2.3,2.6,2.9,3.2,3.5,3.8,4.1,4.4,4.7],
[2.2,2.5,2.8,3.1,3.4,3.7,4.0,4.3,4.6],
[2.4,2.1,3.0,2.7,3.6,3.3,4.2,3.9,4.4],
[2.3,2.0,3.0,2.7,3.5,3.3,4.2,3.9,4.5],
[1.9,2.2,2.6,2.9,3.2,3.5,3.8,4.2,4.6],
[1.8,2.2,2.5,2.9,3.1,3.5,3.9,4.2,4.5],
[2.2,1.8,2.8,2.5,3.4,3.1,4.1,3.8,4.4],
[2.2,1.9,2.8,2.5,3.3,3.1,4.0,3.6,4.3],
[1.9,2.1,2.4,2.7,3.0,3.2,3.5,3.8,4.1],
[1.6,1.9,2.2,2.5,2.8,3.1,3.4,3.7,4.0],
[1.7,1.4,2.3,2.0,2.9,2.6,3.5,3.2,3.8],
[1.5,1.2,2.1,1.8,2.7,2.4,3.2,3.0,3.5],
[1.0,1.3,1.6,1.9,2.1,2.4,2.7,2.9,3.1],
[0.8,1.1,1.4,1.6,1.9,2.1,2.4,2.7,2.9],
[0.8,0.6,1.3,1.1,1.8,1.6,2.4,2.0,2.6],
[0.6,0.3,1.0,0.8,1.5,1.2,2.0,1.7,2.3],
[0.1,0.3,0.5,0.7,0.9,1.1,1.4,1.7,2.0],
[-0.1,0.1,0.3,0.4,0.6,0.8,1.0,1.3,1.6],
[-0.1,-0.3,0.2,0.1,0.6,0.4,1.0,0.8,1.4],
[-0.6,-0.9,-0.2,-0.3,0.2,0.0,0.8,0.5,1.1],
[-1.3,-1.0,-0.7,-0.5,-0.3,-0.1,0.2,0.5,0.8],
[-1.6,-1.3,-1.0,-0.8,-0.5,-0.3,-0.1,0.2,0.5],
[-1.5,-1.8,-1.0,-1.2,-0.5,-0.7,-0.1,-0.3,0.2],
[-1.7,-2.0,-1.1,-1.4,-0.7,-0.9,-0.3,-0.5,-0.1],
[-2.1,-1.8,-1.5,-1.3,-1.1,-0.9,-0.6,-0.4,-0.2],
[-2.0,-1.8,-1.6,-1.3,-1.1,-0.9,-0.7,-0.4,-0.1],
[-1.7,-1.9,-1.3,-1.5,-0.9,-1.1,-0.5,-0.7,-0.1],
[-1.7,-1.9,-1.3,-1.5,-0.9,-1.1,-0.4,-0.7,-0.1],
[-1.9,-1.7,-1.5,-1.3,-1.1,-0.9,-0.6,-0.4,0.0],
[-1.8,-1.6,-1.4,-1.2,-1.0,-0.8,-0.5,-0.3,0.1],
[-1.4,-1.7,-1.0,-1.2,-0.6,-0.8,0.0,-0.3,0.3],
[-1.3,-1.6,-0.8,-1.0,-0.4,-0.6,0.2,-0.1,0.5],
[-1.5,-1.2,-0.9,-0.6,-0.4,-0.2,0.1,0.4,0.7],
[-1.3,-1.0,-0.7,-0.4,-0.2,0.1,0.3,0.6,1.0],
[-0.8,-1.1,-0.2,-0.5,0.4,0.1,0.9,0.6,1.3],
[-0.6,-0.9,0.0,-0.3,0.6,0.3,1.2,0.9,1.5],
[-0.7,-0.4,-0.1,0.2,0.5,0.7,1.0,1.3,1.7],
[-0.5,-0.2,0.1,0.4,0.6,0.9,1.2,1.5,1.8],
[-0.1,-0.4,0.4,0.2,1.0,0.7,1.6,1.3,1.9],
[0.1,-0.2,0.5,0.3,1.0,0.7,1.6,1.3,1.9],
[-0.1,0.1,0.4,0.6,0.8,1.0,1.3,1.5,1.8],
[0.0,0.2,0.4,0.6,0.8,1.0,1.2,1.4,1.7],
[0.1,-0.1,0.5,0.3,0.9,0.7,1.3,1.1,1.6],
[0.1,-0.2,0.4,0.3,0.8,0.6,1.2,1.0,1.5],
[-0.3,0.0,0.1,0.3,0.5,0.6,0.8,1.0,1.3],
[-0.5,-0.2,-0.1,0.1,0.3,0.5,0.7,0.9,1.2],
[-0.4,-0.7,0.0,-0.2,0.3,0.1,0.7,0.5,1.0],
[-0.6,-0.9,-0.2,-0.4,0.1,-0.1,0.6,0.3,0.9],
[-1.1,-0.8,-0.6,-0.5,-0.3,-0.1,0.1,0.3,0.6],
[-1.3,-1.1,-0.9,-0.7,-0.5,-0.3,-0.1,0.1,0.4],
[-1.1,-1.3,-0.7,-0.9,-0.3,-0.5,0.1,-0.1,0.3],
[-1.2,-1.4,-0.8,-1.0,-0.5,-0.6,-0.1,-0.3,0.2],
[-1.5,-1.3,-1.1,-0.9,-0.7,-0.5,-0.3,-0.1,0.2],
[-1.5,-1.3,-1.1,-0.9,-0.7,-0.5,-0.3,-0.1,0.2],
[-1.1,-1.3,-0.7,-0.9,-0.3,-0.5,0.2,-0.1,0.5],
[-0.9,-1.2,-0.5,-0.7,-0.1,-0.3,0.5,0.1,0.7],
[-1.1,-0.7,-0.5,-0.3,-0.1,0.1,0.3,0.6,0.9],
[-0.9,-0.6,-0.3,-0.1,0.1,0.3,0.6,0.9,1.2],
[-0.4,-0.7,0.1,-0.1,0.5,0.3,1.1,0.8,1.3],
[-0.3,-0.6,0.2,0.0,0.7,0.4,1.2,0.9,1.4],
[-0.5,-0.2,0.1,0.3,0.5,0.7,0.9,1.1,1.4],
[-0.4,-0.1,0.1,0.3,0.5,0.7,0.9,1.1,1.3],
[0.0,-0.3,0.4,0.2,0.7,0.5,1.1,0.9,1.3],
[0.0,-0.3,0.3,0.2,0.7,0.5,1.1,0.9,1.3],
[-0.3,-0.1,0.1,0.3,0.4,0.6,0.8,1.0,1.2],
[-0.4,-0.1,0.0,0.2,0.3,0.5,0.7,0.9,1.1],
[-0.2,-0.5,0.0,-0.1,0.4,0.2,0.8,0.6,0.9],
[-0.3,-0.5,0.0,-0.1,0.3,0.2,0.7,0.5,0.9],
[-0.7,-0.4,-0.2,0.0,0.1,0.3,0.5,0.6,0.8],
[-0.7,-0.5,-0.3,-0.1,0.0,0.2,0.4,0.5,0.7],
[-0.6,-0.8,-0.3,-0.4,0.1,-0.1,0.5,0.3,0.6],
[-0.7,-0.9,-0.3,-0.5,0.0,-0.1,0.4,0.2,0.6],
[-1.0,-0.8,-0.6,-0.4,-0.2,-0.1,0.1,0.3,0.5],
[-1.1,-0.9,-0.7,-0.5,-0.3,-0.1,0.1,0.3,0.6],
[-1.0,-1.2,-0.5,-0.7,-0.1,-0.3,0.4,0.1,0.6],
[-1.0,-1.3,-0.5,-0.7,-0.1,-0.3,0.4,0.1,0.7],
[-1.2,-0.9,-0.7,-0.5,-0.3,-0.1,0.2,0.4,0.7],
[-1.1,-0.8,-0.6,-0.4,-0.2,0.0,0.2,0.5,0.7],
[-0.7,-1.0,-0.3,-0.5,0.1,-0.1,0.6,0.3,0.9],
[-0.6,-0.8,-0.2,-0.4,0.2,0.0,0.7,0.4,1.0],
[-0.7,-0.5,-0.3,-0.1,0.1,0.3,0.5,0.8,1.1],
[-0.7,-0.4,-0.2,0.0,0.2,0.4,0.6,0.9,1.2],
[-0.4,-0.6,0.1,-0.1,0.5,0.3,0.9,0.7,1.2],
[-0.3,-0.6,0.1,-0.1,0.5,0.3,0.9,0.7,1.1],
[-0.6,-0.3,-0.1,0.1,0.3,0.4,0.6,0.8,1.0],
[-0.6,-0.4,-0.2,0.1,0.2,0.4,0.6,0.8,1.0],
[-0.4,-0.7,0.0,-0.2,0.4,0.2,0.7,0.6,0.9],
[-0.5,-0.7,-0.1,-0.3,0.3,0.1,0.7,0.5,0.8],
[-0.8,-0.6,-0.4,-0.2,0.0,0.2,0.4,0.6,0.7],
[-0.9,-0.7,-0.5,-0.3,-0.1,0.1,0.3,0.4,0.7],
[-0.7,-0.9,-0.3,-0.5,0.0,-0.1,0.4,0.2,0.6],
[-0.7,-0.9,-0.3,-0.5,0.0,-0.2,0.4,0.2,0.6],
[-1.0,-0.7,-0.5,-0.4,-0.2,0.0,0.2,0.4,0.7],
[-1.0,-0.8,-0.5,-0.3,-0.1,0.1,0.3,0.5,0.7],
[-0.7,-0.9,-0.3,-0.5,0.1,-0.1,0.5,0.3,0.8],
[-0.7,-0.9,-0.3,-0.5,0.1,-0.1,0.6,0.3,0.9],
[-0.9,-0.6,-0.4,-0.2,0.0,0.2,0.4,0.7,1.0],
[-0.9,-0.6,-0.4,-0.2,0.0,0.2,0.5,0.7,0.9],
[-0.6,-0.8,-0.1,-0.3,0.3,0.1,0.7,0.5,1.0],
[-0.6,-0.8,-0.1,-0.3,0.3,0.1,0.8,0.5,1.0],
[-0.8,-0.5,-0.3,-0.1,0.1,0.3,0.5,0.7,1.0],
[-0.9,-0.6,-0.4,-0.1,0.1,0.3,0.5,0.8,1.0],
[-0.7,-0.9,-0.2,-0.4,0.2,0.0,0.7,0.4,1.0],
[-0.7,-1.0,-0.2,-0.5,0.2,0.0,0.7,0.5,1.0],
[-1.0,-0.8,-0.5,-0.2,0.0,0.2,0.4,0.7,1.0],
[-1.1,-0.8,-0.6,-0.3,-0.1,0.1,0.4,0.7,1.0],
[-0.9,-1.2,-0.3,-0.6,0.1,-0.1,0.6,0.4,0.9],
[-0.9,-1.2,-0.4,-0.7,0.0,-0.2,0.6,0.3,0.9],
[-1.3,-1.0,-0.7,-0.5,-0.2,0.0,0.2,0.5,0.8],
[-1.3,-1.1,-0.8,-0.5,-0.3,-0.1,0.1,0.4,0.7],
[-1.1,-1.3,-0.6,-0.8,-0.1,-0.4,0.4,0.1,0.7],
[-1.0,-1.3,-0.6,-0.8,-0.2,-0.4,0.4,0.1,0.6],
[-1.3,-1.1,-0.8,-0.6,-0.4,-0.1,0.1,0.3,0.6],
[-1.3,-1.0,-0.8,-0.5,-0.3,-0.1,0.1,0.4,0.7],
[-1.0,-1.2,-0.5,-0.7,-0.1,-0.3,0.4,0.1,0.7],
[-0.9,-1.1,-0.5,-0.7,-0.1,-0.3,0.4,0.2,0.7],
[-1.0,-0.8,-0.5,-0.3,-0.1,0.1,0.3,0.5,0.7],
[-0.9,-0.7,-0.5,-0.3,-0.1,0.1,0.3,0.5,0.8],
[-0.6,-0.9,-0.2,-0.4,0.2,0.0,0.6,0.4,0.9],
[-0.6,-0.8,-0.2,-0.4,0.2,0.0,0.7,0.4,0.9],
[-0.9,-0.6,-0.4,-0.2,0.0,0.2,0.4,0.7,1.0],
[-1.0,-0.7,-0.4,-0.2,0.0,0.2,0.4,0.6,0.9],
[-0.7,-1.0,-0.2,-0.4,0.2,0.0,0.7,0.4,0.9],
[-0.7,-1.0,-0.3,-0.5,0.1,-0.1,0.6,0.4,0.9],
[-1.0,-0.8,-0.5,-0.3,-0.1,0.1,0.3,0.6,0.8],
[-1.1,-0.9,-0.6,-0.4,-0.2,0.0,0.2,0.5,0.7],
[-0.9,-1.1,-0.5,-0.7,-0.1,-0.3,0.4,0.1,0.7],
[-0.9,-1.1,-0.5,-0.7,-0.1,-0.3,0.3,0.1,0.6],
[-1.2,-1.0,-0.7,-0.5,-0.3,-0.1,0.1,0.3,0.5],
[-1.2,-1.0,-0.8,-0.6,-0.4,-0.2,0.0,0.2,0.5],
[-1.1,-1.3,-0.6,-0.8,-0.2,-0.4,0.2,0.0,0.4],
[-1.1,-1.3,-0.7,-0.9,-0.3,-0.5,0.1,-0.1,0.4],
[-1.3,-1.1,-0.9,-0.7,-0.5,-0.3,-0.1,0.1,0.3],
[-1.3,-1.1,-0.9,-0.7,-0.5,-0.3,-0.1,0.1,0.3],
[-1.0,-1.2,-0.6,-0.8,-0.2,-0.4,0.2,0.0,0.4],
[-0.9,-1.2,-0.5,-0.7,-0.2,-0.4,0.2,0.0,0.4],
[-1.2,-0.9,-0.7,-0.5,-0.3,-0.1,0.1,0.3,0.5],
[-1.1,-0.9,-0.7,-0.5,-0.3,-0.1,0.1,0.3,0.6],
[-0.8,-1.0,-0.4,-0.6,0.0,-0.2,0.4,0.2,0.7],
[-0.7,-0.9,-0.3,-0.5,0.1,-0.1,0.5,0.3,0.8],
[-0.9,-0.6,-0.4,-0.2,0.0,0.2,0.4,0.6,0.8],
[-0.8,-0.6,-0.4,-0.2,0.0,0.2,0.4,0.6,0.8],
[-0.6,-0.8,-0.2,-0.4,0.1,0.0,0.5,0.3,0.7],
[-0.7,-0.9,-0.3,-0.5,0.1,-0.1,0.5,0.3,0.7],
[-0.9,-0.7,-0.5,-0.3,-0.1,0.0,0.2,0.3,0.5],
[-0.9,-0.7,-0.5,-0.3,-0.2,0.0,0.2,0.3,0.5],
[-0.8,-1.0,-0.4,-0.6,-0.1,-0.2,0.3,0.1,0.4],
[-0.8,-1.0,-0.4,-0.6,-0.1,-0.3,0.2,0.1,0.4],
[-1.0,-0.8,-0.6,-0.5,-0.3,-0.1,0.0,0.2,0.4],
[-1.0,-0.8,-0.6,-0.5,-0.3,-0.2,0.0,0.2,0.3],
[-0.9,-1.0,-0.5,-0.7,-0.2,-0.3,0.2,0.0,0.3],
[-0.9,-1.1,-0.5,-0.7,-0.2,-0.3,0.2,0.0,0.3],
[-1.1,-0.9,-0.7,-0.5,-0.3,-0.1,0.0,0.2,0.4],
[-1.1,-0.9,-0.7,-0.5,-0.3,-0.1,0.1,0.3,0.5],
[-0.9,-1.1,-0.5,-0.7,-0.1,-0.3,0.3,0.1,0.5],
[-0.9,-1.1,-0.5,-0.7,-0.1,-0.3,0.4,0.2,0.6],
[-1.2,-0.9,-0.7,-0.4,-0.2,0.0,0.2,0.5,0.7],
[-1.2,-0.9,-0.6,-0.4,-0.1,0.1,0.3,0.5,0.8],
[-0.9,-1.2,-0.3,-0.6,0.1,-0.1,0.6,0.4,0.9],
[-0.8,-1.1,-0.3,-0.5,0.2,0.0,0.7,0.4,1.0],
[-1.0,-0.7,-0.5,-0.3,-0.1,0.2,0.5,0.7,0.9],
[-1.0,-0.7,-0.4,-0.2,0.0,0.3,0.5,0.7,0.9],
[-0.6,-0.9,-0.2,-0.4,0.3,0.0,0.7,0.5,0.9],
[-0.6,-0.9,-0.1,-0.3,0.3,0.1,0.7,0.5,1.0]
];
// first samples near the start of the record
const measEarlyX = [0.297,0.298,0.3,0.301,0.303,0.305,0.306,0.308,0.31,0.312,0.43,0.93];
const measEarlyY = [2.9,2.7,2.4,2.3,2.0,1.9,1.7,1.5,1.3,1.1,1.44,2.9];

// Fresnel zone geometry (m)
const specularX = 1.25;
const ffzCenterX = 1.42;
const ffzLimitsX = [0.42, 2.43];
const otherFzX = [3.09, 3.685, 4.237, 4.775, 5.30, 5.824, 6.323, 6.835, 7.335, 7.824, 8.315, 8.815, 9.305];

const legendLabels = ["Measurements", "Moving average", "Conf. interval", "Pred. interval",
  "Specular point", "FFZ center", "FFZ limits", "Other FZ limits"];

// ---------------- CHART ----------------
const W = 1152, H = 931;
const pL = 79.6, pR = 1151.9, pT = 14, pB = 868;
const FONT = '"Liberation Sans", Arial, Helvetica, sans-serif';
const x = d3.scaleLinear().domain([0.25, 9.665]).range([pL, pR]);
const y = d3.scaleLinear().domain([-2.5, 5.5]).range([pB, pT]);

const svg = d3.select('#chart');
svg.append('rect').attr('width', W).attr('height', H).attr('fill', '#fff');
svg.append('defs').append('clipPath').attr('id', 'plotclip')
  .append('rect').attr('x', pL).attr('y', pT).attr('width', W - pL).attr('height', pB - pT);

const plot = svg.append('g').attr('clip-path', 'url(#plotclip)');

// dotted grid
plot.append('g').selectAll('line').data(xTicks).join('line')
  .attr('x1', d => x(d)).attr('x2', d => x(d)).attr('y1', pT).attr('y2', pB)
  .attr('stroke', '#6a6a6a').attr('stroke-width', 1.2).attr('stroke-dasharray', '1.3,9.4');
plot.append('g').selectAll('line').data(yTicks).join('line')
  .attr('x1', pL).attr('x2', W).attr('y1', d => y(d)).attr('y2', d => y(d))
  .attr('stroke', '#6a6a6a').attr('stroke-width', 1.2).attr('stroke-dasharray', '1.3,9.4');

// other Fresnel zone limits (thin blue)
plot.append('g').selectAll('line').data(otherFzX).join('line')
  .attr('x1', d => x(d)).attr('x2', d => x(d)).attr('y1', pT).attr('y2', pB)
  .attr('stroke', '#3c3cff').attr('stroke-width', 1.1);

// prediction interval
const predPoly = predUpX.map((v, i) => [v, predUpY[i]])
  .concat(predLoX.map((v, i) => [v, predLoY[i]]).reverse());
const polyLine = d3.line().x(d => x(d[0])).y(d => y(d[1]));
plot.append('path').attr('d', polyLine(predPoly) + 'Z').attr('fill', '#e0e0e0').attr('stroke', 'none');

// measurements: thin connecting lines plus a marker at every sample
const passes1 = d3.range(measCols[0].length).map(k => measX.map((xv, i) => [xv, measCols[i][k]]));
const passes2 = d3.range(measCols2[0].length).map(k => measX2.map((xv, i) => [xv, measCols2[i][k]]));
const early = measEarlyX.map((v, i) => [v, measEarlyY[i]]);
const passes = passes1.concat(passes2, [early]);
const measG = plot.append('g');
const mLine = d3.line().x(d => x(d[0])).y(d => y(d[1]));
measG.selectAll('path.pass').data(passes).join('path').attr('class', 'pass')
  .attr('d', mLine).attr('fill', 'none').attr('stroke', '#949494').attr('stroke-width', 1);
const allPts = passes1.flat().concat(passes2.flat(), early.slice(0, early.length - 2));
const pillW = 8.5, pillH = 5.2;
measG.selectAll('rect').data(allPts).join('rect')
  .attr('x', d => x(d[0]) - pillW / 2).attr('y', d => y(d[1]) - pillH / 2)
  .attr('width', pillW).attr('height', pillH).attr('rx', pillH / 2)
  .attr('fill', '#8e8e8e');

// zero reference line
plot.append('line').attr('x1', x(0.355)).attr('x2', W).attr('y1', y(0)).attr('y2', y(0))
  .attr('stroke', '#555').attr('stroke-width', 4.5).attr('stroke-dasharray', '15,9,2,9');

// confidence interval
const avgPts = avgX.map((v, i) => ({ x: v, y: avgY[i], h: ciHalf[i] }));
plot.append('path').datum(avgPts)
  .attr('d', d3.area().x(d => x(d.x)).y0(d => y(d.y - d.h)).y1(d => y(d.y + d.h)))
  .attr('fill', '#ff0000');
// moving average
plot.append('path').datum(avgPts)
  .attr('d', d3.line().x(d => x(d.x)).y(d => y(d.y)))
  .attr('fill', 'none').attr('stroke', '#000').attr('stroke-width', 5.5)
  .attr('stroke-linejoin', 'round').attr('stroke-linecap', 'butt');

// specular point, FFZ center, FFZ limits
plot.append('line').attr('x1', x(specularX)).attr('x2', x(specularX)).attr('y1', pT).attr('y2', pB)
  .attr('stroke', '#0000ff').attr('stroke-width', 3.6);
plot.append('line').attr('x1', x(ffzCenterX)).attr('x2', x(ffzCenterX)).attr('y1', pT).attr('y2', pB)
  .attr('stroke', '#0000ff').attr('stroke-width', 4).attr('stroke-dasharray', '15,9,2,9').attr('stroke-dashoffset', 10.7);
plot.append('g').selectAll('line').data(ffzLimitsX).join('line')
  .attr('x1', d => x(d)).attr('x2', d => x(d)).attr('y1', pT).attr('y2', pB)
  .attr('stroke', '#0000ff').attr('stroke-width', 4).attr('stroke-dasharray', '15,9');

// axes
const axisColor = '#404040';
const gx = svg.append('g').attr('transform', `translate(0,${pB})`)
  .call(d3.axisBottom(x).tickValues(xTicks).tickFormat(d => String(d))
    .tickSizeInner(-11).tickSizeOuter(0).tickPadding(13));
const gy = svg.append('g').attr('transform', `translate(${pL},0)`)
  .call(d3.axisLeft(y).tickValues(yTicks).tickFormat(d => String(d))
    .tickSizeInner(-11).tickSizeOuter(0).tickPadding(5));
[gx, gy].forEach(g => {
  g.select('.domain').attr('stroke', axisColor).attr('stroke-width', 1.5);
  g.selectAll('.tick line').attr('stroke', axisColor).attr('stroke-width', 1.5);
  g.selectAll('.tick text').attr('fill', '#000').attr('font-size', 23).attr('font-family', FONT);
});
gx.select('.domain').attr('d', `M${pL},0H${W}`);

// axis titles
svg.append('text').attr('x', 580).attr('y', 925.5).attr('text-anchor', 'middle')
  .attr('font-size', 24).attr('font-family', FONT).text('Horizontal distance (m)');
svg.append('text').attr('transform', 'translate(32,450) rotate(-90)').attr('text-anchor', 'middle')
  .attr('font-size', 25).attr('font-family', FONT).text('SNR change (dB)');

// legend
const lg = svg.append('g');
const lgLeft = 878, lgTop = 28, lgBottom = 278.5;
lg.append('rect').attr('x', lgLeft).attr('y', lgTop).attr('width', W - lgLeft).attr('height', lgBottom - lgTop).attr('fill', '#fff');
lg.append('path').attr('d', `M${lgLeft},${lgTop}V${lgBottom}H${W}`).attr('fill', 'none').attr('stroke', '#000').attr('stroke-width', 1.5);
const sx0 = 892, sx1 = 966, rowY = i => 47 + i * 30.3;
lg.append('line').attr('x1', sx0).attr('x2', sx1).attr('y1', rowY(0)).attr('y2', rowY(0)).attr('stroke', '#a0a0a0').attr('stroke-width', 2);
lg.append('circle').attr('cx', (sx0 + sx1) / 2).attr('cy', rowY(0)).attr('r', 2.6).attr('fill', '#8c8c8c');
lg.append('line').attr('x1', sx0).attr('x2', sx1).attr('y1', rowY(1)).attr('y2', rowY(1)).attr('stroke', '#000').attr('stroke-width', 5.5);
lg.append('rect').attr('x', sx0).attr('y', rowY(2) - 11).attr('width', sx1 - sx0).attr('height', 22).attr('fill', '#ff0000');
lg.append('rect').attr('x', sx0).attr('y', rowY(3) - 11).attr('width', sx1 - sx0).attr('height', 22).attr('fill', '#e0e0e0');
lg.append('line').attr('x1', sx0).attr('x2', sx1).attr('y1', rowY(4)).attr('y2', rowY(4)).attr('stroke', '#0000ff').attr('stroke-width', 3.6);
lg.append('line').attr('x1', sx0).attr('x2', sx1).attr('y1', rowY(5)).attr('y2', rowY(5)).attr('stroke', '#0000ff').attr('stroke-width', 4).attr('stroke-dasharray', '2,7,15,9');
lg.append('line').attr('x1', sx0).attr('x2', sx1).attr('y1', rowY(6)).attr('y2', rowY(6)).attr('stroke', '#0000ff').attr('stroke-width', 4).attr('stroke-dasharray', '15,9');
lg.append('line').attr('x1', sx0).attr('x2', sx1).attr('y1', rowY(7)).attr('y2', rowY(7)).attr('stroke', '#3c3cff').attr('stroke-width', 1.2);
lg.selectAll('text').data(legendLabels).join('text')
  .attr('x', 975).attr('y', (d, i) => rowY(i) + 8.5)
  .attr('font-size', 23).attr('font-family', FONT).attr('fill', '#000').text(d => d);
</script>
</body>
</html>
